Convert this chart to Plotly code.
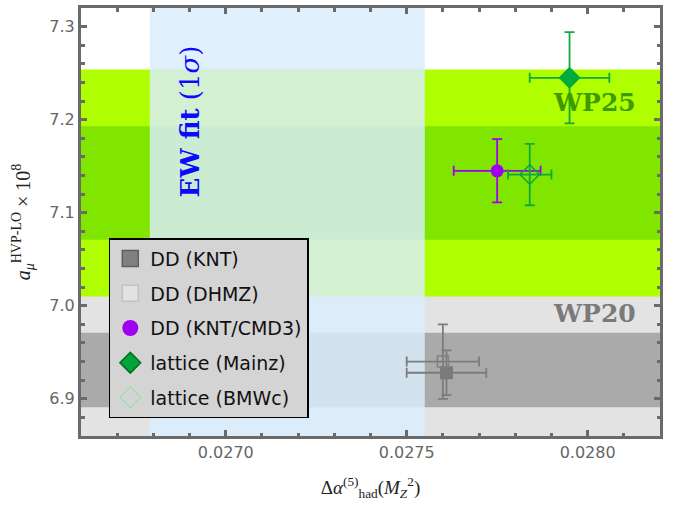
import plotly.graph_objects as go

# ---- data ----
sources = ["DD (KNT)", "DD (DHMZ)", "DD (KNT/CMD3)", "lattice (Mainz)", "lattice (BMWc)"]
dalpha = [0.02761, 0.02760, 0.02775, 0.02795, 0.02784]
dalpha_err = [0.00011, 0.00010, 0.00012, 0.00011, 0.00006]
amu = [6.928, 6.940, 7.145, 7.245, 7.141]
amu_err = [0.024, 0.040, 0.034, 0.049, 0.033]

wp25_center, wp25_err = 7.132, 0.061
wp20_center, wp20_err = 6.931, 0.040
ew_center, ew_err = 0.02717, 0.00038

x_range = [0.0266, 0.0282]
y_range = [6.86, 7.32]
x_ticks = [0.0270, 0.0275, 0.0280]
x_ticklabels = ["0.0270", "0.0275", "0.0280"]
y_ticks = [6.9, 7.0, 7.1, 7.2, 7.3]
y_ticklabels = ["6.9", "7.0", "7.1", "7.2", "7.3"]

# ---- styles ----
plot_styles = [
    dict(symbol="square", size=13, color="#7a7a7a", line=dict(width=0)),
    dict(symbol="square-open", size=11, color="#808080", line=dict(width=1.5, color="#808080")),
    dict(symbol="circle", size=13, color="#a000f0", line=dict(width=0)),
    dict(symbol="diamond", size=17, color="#00aa3c", line=dict(width=0)),
    dict(symbol="diamond-open", size=15, color="#00aa3c", line=dict(width=1.5, color="#00aa3c")),
]
err_colors = ["#7c7c7c", "#7c7c7c", "#a000f0", "#10a840", "#10a840"]
legend_styles = [
    dict(symbol="square", size=16, color="#808080", line=dict(width=1.5, color="#5e5e5e")),
    dict(symbol="square", size=16, color="#e2e2e2", line=dict(width=1.5, color="#c2c2c2")),
    dict(symbol="circle", size=16, color="#a000f0", line=dict(width=0)),
    dict(symbol="diamond", size=16, color="#00a43a", line=dict(width=1.5, color="#006e22")),
    dict(symbol="diamond-open", size=16, color="#a6dcb0", line=dict(width=1.5, color="#a6dcb0")),
]

fig = go.Figure()

for i, name in enumerate(sources):
    fig.add_trace(go.Scatter(
        x=[dalpha[i]], y=[amu[i]], mode="markers", name=name, showlegend=False,
        marker=plot_styles[i],
        error_x=dict(type="data", array=[dalpha_err[i]], color=err_colors[i], thickness=1.8, width=5),
        error_y=dict(type="data", array=[amu_err[i]], color=err_colors[i], thickness=1.8, width=5),
    ))

for i, name in enumerate(sources):
    fig.add_trace(go.Scatter(
        x=[None], y=[None], mode="markers", name=name, legendgroup=f"g{i}",
        marker=legend_styles[i],
    ))

shapes = [
    # WP20 bands
    dict(type="rect", xref="paper", yref="y", x0=0, x1=1,
         y0=wp20_center - 2 * wp20_err, y1=wp20_center + 2 * wp20_err,
         fillcolor="#e3e3e3", line=dict(width=0), layer="below"),
    dict(type="rect", xref="paper", yref="y", x0=0, x1=1,
         y0=wp20_center - wp20_err, y1=wp20_center + wp20_err,
         fillcolor="#aaaaaa", line=dict(width=0), layer="below"),
    # WP25 bands
    dict(type="rect", xref="paper", yref="y", x0=0, x1=1,
         y0=wp25_center - 2 * wp25_err, y1=wp25_center + 2 * wp25_err,
         fillcolor="#b0ff00", line=dict(width=0), layer="below"),
    dict(type="rect", xref="paper", yref="y", x0=0, x1=1,
         y0=wp25_center - wp25_err, y1=wp25_center + wp25_err,
         fillcolor="#80e600", line=dict(width=0), layer="below"),
    # EW fit band
    dict(type="rect", xref="x", yref="paper", x0=ew_center - ew_err, x1=ew_center + ew_err,
         y0=0, y1=1, fillcolor="rgba(218,237,251,0.835)", line=dict(width=0), layer="below"),
]

annotations = [
    dict(x=0.02802, y=7.218, xref="x", yref="y", text="<b>WP25</b>", showarrow=False,
         font=dict(family="DejaVu Serif", size=25, color="#3f9a00")),
    dict(x=0.02802, y=6.992, xref="x", yref="y", text="<b>WP20</b>", showarrow=False,
         font=dict(family="DejaVu Serif", size=25, color="#7a7a7a")),
    dict(x=0.026901, y=7.198, xref="x", yref="y", text="<b>EW fit</b> (1<i>σ</i>)", showarrow=False,
         textangle=-90, font=dict(family="DejaVu Serif", size=26, color="#0a0aff")),
]

axis_common = dict(
    showline=True, linewidth=3, linecolor="#6a6a6a", mirror="allticks",
    ticks="inside", ticklen=6, tickwidth=2.5, tickcolor="#6a6a6a",
    showgrid=False, zeroline=False,
    tickfont=dict(family="DejaVu Sans", size=16, color="#666666"),
)

fig.update_layout(
    width=683, height=508,
    margin=dict(l=81, r=23, t=5, b=72),
    paper_bgcolor="white", plot_bgcolor="white",
    shapes=shapes, annotations=annotations,
    xaxis=dict(range=x_range, tickvals=x_ticks, ticktext=x_ticklabels,
               minor=dict(ticks="inside", ticklen=3.5, tickwidth=2.5, tickcolor="#6a6a6a", dtick=0.0001, tick0=0.0266),
               title=dict(text="Δ<i>α</i><sup>(5)</sup><sub>had</sub>(<i>M</i><sub><i>Z</i></sub><sup>2</sup>)",
                          font=dict(family="Liberation Serif", size=19, color="#222222"), standoff=20),
               **axis_common),
    yaxis=dict(range=y_range, tickvals=y_ticks, ticktext=y_ticklabels,
               minor=dict(ticks="inside", ticklen=3.5, tickwidth=2.5, tickcolor="#6a6a6a", dtick=0.02, tick0=6.86),
               title=dict(text="<i>a</i><sub><i>μ</i></sub><sup>HVP-LO</sup> × 10<sup>8</sup>",
                          font=dict(family="Liberation Serif", size=20, color="#222222"), standoff=14),
               **axis_common),
    legend=dict(x=0.048, y=0.462, xanchor="left", yanchor="top",
                bgcolor="#d4d4d4", bordercolor="#000000", borderwidth=1.5,
                font=dict(family="DejaVu Sans", size=19, color="#111111"),
                tracegroupgap=7, itemwidth=30),
)

fig.write_html("out.html")
